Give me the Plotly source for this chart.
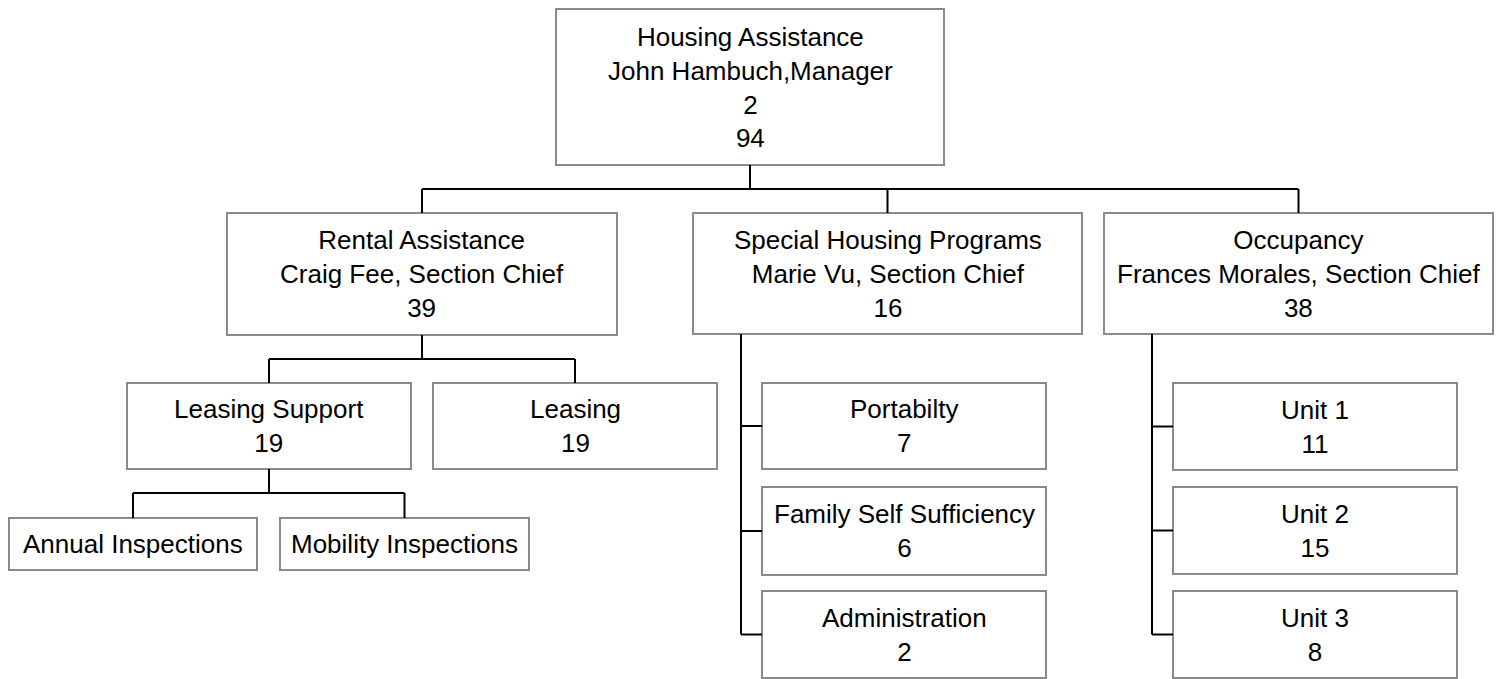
import plotly.graph_objects as go

# ---------------- data ----------------
units = ["Housing Assistance", "Rental Assistance", "Special Housing Programs", "Occupancy",
         "Leasing Support", "Leasing", "Annual Inspections", "Mobility Inspections",
         "Portabilty", "Family Self Sufficiency", "Administration",
         "Unit 1", "Unit 2", "Unit 3"]
heads = ["John Hambuch,Manager", "Craig Fee, Section Chief", "Marie Vu, Section Chief",
         "Frances Morales, Section Chief", None, None, None, None, None, None, None, None, None, None]
office_staff = [2, None, None, None, None, None, None, None, None, None, None, None, None, None]
headcount = [94, 39, 16, 38, 19, 19, None, None, 7, 6, 2, 11, 15, 8]
parents = [None, 0, 0, 0, 1, 1, 4, 4, 2, 2, 2, 3, 3, 3]

# ---------------- layout (pixel boxes: x0, x1, y0, y1) ----------------
box_x0 = [556, 227, 693, 1104, 127, 433, 9, 280, 762, 762, 762, 1173, 1173, 1173]
box_x1 = [944, 617, 1082, 1493, 411, 717, 257, 529, 1046, 1046, 1046, 1457, 1457, 1457]
box_y0 = [9, 213, 213, 213, 383, 383, 518, 518, 383, 487, 591, 383, 487, 591]
box_y1 = [165, 335, 334, 334, 469, 469, 570, 570, 469, 575, 678, 470, 574, 678]
# children arrangement: "tree" (bus below parent) or "side" (bus on left of children)
child_style = {0: "tree", 1: "tree", 4: "tree", 2: "side", 3: "side"}
bus_gap = 24      # distance from parent bottom to horizontal bus (tree)
side_offset = 48  # distance from parent left edge to vertical bus (side)

W, H = 1500, 679
FONT = "Liberation Sans, Arial, sans-serif"
LINE = dict(color="#000000", width=2)
BORDER = dict(color="#8a8a8a", width=2)

fig = go.Figure()
shapes = []
annotations = []

for i, name in enumerate(units):
    shapes.append(dict(type="rect", xref="x", yref="y",
                       x0=box_x0[i], x1=box_x1[i], y0=box_y0[i], y1=box_y1[i],
                       line=BORDER, fillcolor="white", layer="above"))
    lines = [name]
    if heads[i]:
        lines.append(heads[i])
    if office_staff[i] is not None:
        lines.append(str(office_staff[i]))
    if headcount[i] is not None:
        lines.append(str(headcount[i]))
    annotations.append(dict(x=(box_x0[i] + box_x1[i]) / 2, y=(box_y0[i] + box_y1[i]) / 2,
                            xref="x", yref="y", text="<br>".join(lines), showarrow=False,
                            xanchor="center", yanchor="middle", align="center",
                            font=dict(family=FONT, size=26, color="#000000")))

for p, style in child_style.items():
    kids = [k for k, pp in enumerate(parents) if pp == p]
    pcx = (box_x0[p] + box_x1[p]) / 2
    pbot = box_y1[p]
    if style == "tree":
        bus_y = pbot + bus_gap
        cxs = [(box_x0[k] + box_x1[k]) / 2 for k in kids]
        shapes.append(dict(type="line", xref="x", yref="y", x0=pcx, x1=pcx, y0=pbot, y1=bus_y, line=LINE))
        shapes.append(dict(type="line", xref="x", yref="y", x0=min(cxs), x1=max(cxs), y0=bus_y, y1=bus_y, line=LINE))
        for k, cx in zip(kids, cxs):
            shapes.append(dict(type="line", xref="x", yref="y", x0=cx, x1=cx, y0=bus_y, y1=box_y0[k], line=LINE))
    else:
        bx = box_x0[p] + side_offset
        mids = [(box_y0[k] + box_y1[k]) / 2 for k in kids]
        shapes.append(dict(type="line", xref="x", yref="y", x0=bx, x1=bx, y0=pbot, y1=max(mids), line=LINE))
        for k, my in zip(kids, mids):
            shapes.append(dict(type="line", xref="x", yref="y", x0=bx, x1=box_x0[k], y0=my, y1=my, line=LINE))

fig.update_layout(
    width=W, height=H,
    margin=dict(l=0, r=0, t=0, b=0),
    paper_bgcolor="white", plot_bgcolor="white",
    shapes=shapes, annotations=annotations,
    xaxis=dict(range=[0, W], visible=False, fixedrange=True),
    yaxis=dict(range=[H, 0], visible=False, fixedrange=True),
    showlegend=False,
)

fig.write_html("out.html", config={"displayModeBar": False},
               post_script="document.body.style.margin='0';document.body.style.overflow='hidden';")
